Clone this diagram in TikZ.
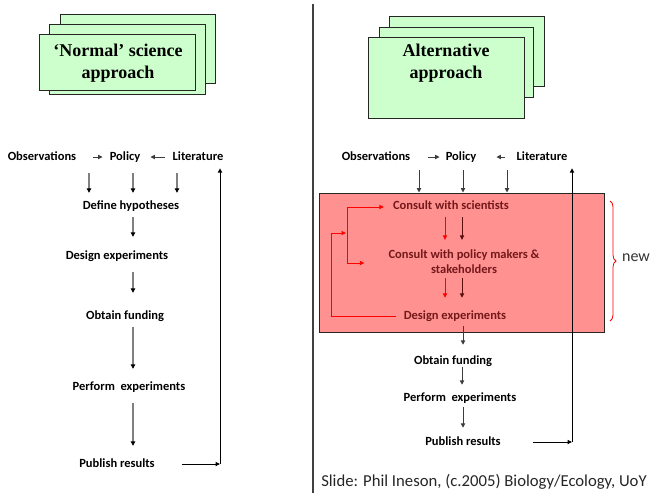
\documentclass[tikz,border=0pt]{standalone}
\usepackage{fontspec}
\setmainfont{Carlito}
\newfontfamily\titlefont{Liberation Serif}
\usetikzlibrary{arrows.meta,decorations.pathreplacing}
\definecolor{cardgreen}{RGB}{204,255,204}
\definecolor{newpink}{RGB}{255,145,145}
\definecolor{boxtext}{RGB}{115,25,25}
\definecolor{darkarrow}{RGB}{90,15,15}
\definecolor{flowgray}{RGB}{60,60,60}
\tikzset{
  card/.style={fill=cardgreen,draw=black!85,line width=0.8pt},
  ttl/.style={font=\titlefont\bfseries\fontsize{18}{22}\selectfont,align=center,inner sep=0pt},
  lbl/.style={font=\bfseries\fontsize{12.5}{15}\selectfont,inner sep=0pt,text height=8.5pt,text depth=2.5pt},
  inbox/.style={lbl,text=boxtext},
  arr/.style={draw=flowgray,line width=1pt,-{Triangle[length=4.5pt,width=4.2pt]}},
  grayarr/.style={draw=black!50,line width=1.2pt,-{Triangle[length=4.5pt,width=4.5pt,color=black]}},
  redarr/.style={draw=red,line width=1pt,-{Triangle[length=4.5pt,width=4.2pt]}},
  darkarr/.style={draw=darkarrow,line width=1pt,-{Triangle[length=4.5pt,width=4.2pt]}},
}
\begin{document}
\begin{tikzpicture}[x=1pt,y=-1pt]
\useasboundingbox (0,0) rectangle (651,493);

% divider between the two approaches
\draw[black!75,line width=1.2pt] (313,4) -- (313,493);

% ---------- left: 'Normal' science approach ----------
\draw[card] (60,14) rectangle (215,83);
\draw[card] (49,24) rectangle (205,94);
\draw[card] (39,34) rectangle (195,90);
\node[ttl] (titleL) at (118,63) {‘Normal’ science\\approach};

\node[lbl] (obsL) at (42,157) {Observations};
\node[lbl] (polL) at (125,157) {Policy};
\node[lbl] (litL) at (198,157) {Literature};
\node[lbl] (hypL) at (131,206) {Define hypotheses};
\node[lbl] (desL) at (117,256) {Design experiments};
\node[lbl] (obtL) at (125,316) {Obtain funding};
\node[lbl] (perL) at (129,387) {Perform\ \ experiments};
\node[lbl] (pubL) at (117,464) {Publish results};
\coordinate (cornerL) at (220,464);

\draw[arr,shorten <=17pt,shorten >=7pt] (obsL.east) -- (polL.west);
\draw[arr,shorten <=7pt,shorten >=10pt] (litL.west) -- (polL.east);
\draw[grayarr,shorten <=10.5pt,shorten >=7.5pt] ([xshift=47pt]obsL.south) -- ([xshift=-42pt]hypL.north);
\draw[grayarr,shorten <=10.5pt,shorten >=7.5pt] ([xshift=8pt]polL.south) -- ([xshift=2pt]hypL.north);
\draw[grayarr,shorten <=10.5pt,shorten >=7.5pt] ([xshift=-21pt]litL.south) -- ([xshift=46pt]hypL.north);
\draw[grayarr,shorten <=5.5pt,shorten >=13.5pt] ([xshift=2pt]hypL.south) -- ([xshift=2pt]hypL.south |- desL.north);
\draw[grayarr,shorten <=10.5pt,shorten >=17.5pt] ([xshift=16pt]desL.south) -- ([xshift=16pt]desL.south |- obtL.north);
\draw[grayarr,shorten <=5.5pt,shorten >=12.5pt] ([xshift=8pt]obtL.south) -- ([xshift=8pt]obtL.south |- perL.north);
\draw[grayarr,shorten <=10.5pt,shorten >=12.5pt] ([xshift=4pt]perL.south) -- ([xshift=4pt]perL.south |- pubL.north);
\draw[arr,draw=black,shorten <=27pt] (pubL.east) -- (cornerL);
\draw[arr,draw=black,shorten >=5.5pt] (cornerL) -- (cornerL |- litL.south);

% ---------- right: alternative approach ----------
\draw[card] (389,16) rectangle (544,86);
\draw[card] (379,27) rectangle (533,97);
\draw[card] (368,37) rectangle (524,118);
\node[ttl] (titleR) at (446,63.5) {Alternative\\approach};

\node[lbl] (obsR) at (376,157) {Observations};
\node[lbl] (polR) at (461,157) {Policy};
\node[lbl] (litR) at (542,157) {Literature};

\node[fill=newpink,draw=black!85,line width=0.9pt,minimum width=285pt,minimum height=139pt,inner sep=0pt] (newbox) at (461.5,262.5) {};

\node[inbox] (csR) at (451,206) {Consult with scientists};
\node[inbox,align=center,text height=,text depth=] (cpR) at (464,262) {Consult with policy makers \&\\stakeholders};
\node[inbox] (deR) at (455,316) {Design experiments};
\node[lbl] (obtR) at (453,361) {Obtain funding};
\node[lbl] (perR) at (460,398) {Perform\ \ experiments};
\node[lbl] (pubR) at (463,442) {Publish results};
\coordinate (cornerR) at (572,442);

\draw[arr,shorten <=18pt,shorten >=6pt] (obsR.east) -- (polR.west);
\draw[arr,shorten <=11pt,shorten >=20pt] (litR.west) -- (polR.east);
\draw[arr,shorten <=7.5pt] ([xshift=43pt]obsR.south) -- ([xshift=43pt]obsR.south |- newbox.north);
\draw[arr,shorten <=7.5pt] ([xshift=2pt]polR.south) -- ([xshift=2pt]polR.south |- newbox.north);
\draw[arr,shorten <=7.5pt] ([xshift=-35pt]litR.south) -- ([xshift=-35pt]litR.south |- newbox.north);

% steps inside the new box
\draw[redarr,shorten <=5.5pt,shorten >=10pt] ([xshift=-6pt]csR.south) -- ([xshift=-6pt]csR.south |- cpR.north);
\draw[darkarr,shorten <=5.5pt,shorten >=10pt] ([xshift=11pt]csR.south) -- ([xshift=11pt]csR.south |- cpR.north);
\draw[redarr,shorten <=4pt,shorten >=12.5pt] ([xshift=-10pt]deR.north |- cpR.south) -- ([xshift=-10pt]deR.north);
\draw[darkarr,shorten <=4pt,shorten >=12.5pt] ([xshift=7pt]deR.north |- cpR.south) -- ([xshift=7pt]deR.north);

% red feedback loop from the design step back to the consultations
\coordinate (loopL) at (331,233);
\coordinate (busM) at (346,233);
\coordinate (busT) at (347,207);
\coordinate (busB) at (347,263);
\draw[redarr,shorten <=8pt] (deR.west) -| (loopL) -- (busM);
\draw[red,line width=1pt] (busT) -- (busB);
\draw[redarr,shorten >=9pt] (busT) -- (busT -| csR.west);
\draw[redarr,shorten >=24pt] (busB) -- (busB -| cpR.west);

\draw[arr,shorten <=4.5pt,shorten >=10.5pt] ([xshift=8pt]deR.south) -- ([xshift=8pt]deR.south |- obtR.north);
\draw[arr,shorten <=0pt,shorten >=7.5pt] ([xshift=9pt]obtR.south) -- ([xshift=9pt]obtR.south |- perR.north);
\draw[arr,shorten <=3.5pt,shorten >=8.5pt] ([xshift=3pt]perR.south) -- ([xshift=3pt]perR.south |- pubR.north);
\draw[arr,draw=black,shorten <=32pt] (pubR.east) -- (cornerR);
\draw[arr,draw=black,shorten >=5.5pt] (cornerR) -- (cornerR |- litR.south);

% brace marking the new steps
\draw[red,line width=0.8pt,decorate,decoration={brace,amplitude=6pt}] (610,201) -- (610,321);
\node[font=\fontsize{16}{18}\selectfont,text=black!80,inner sep=0pt] (newlbl) at (636,258) {new};

\node[font=\fontsize{16.7}{19}\selectfont,text=black!85,inner sep=0pt] (credit) at (484,482) {Slide: Phil Ineson, (c.2005) Biology/Ecology, UoY};
\end{tikzpicture}
\end{document}
